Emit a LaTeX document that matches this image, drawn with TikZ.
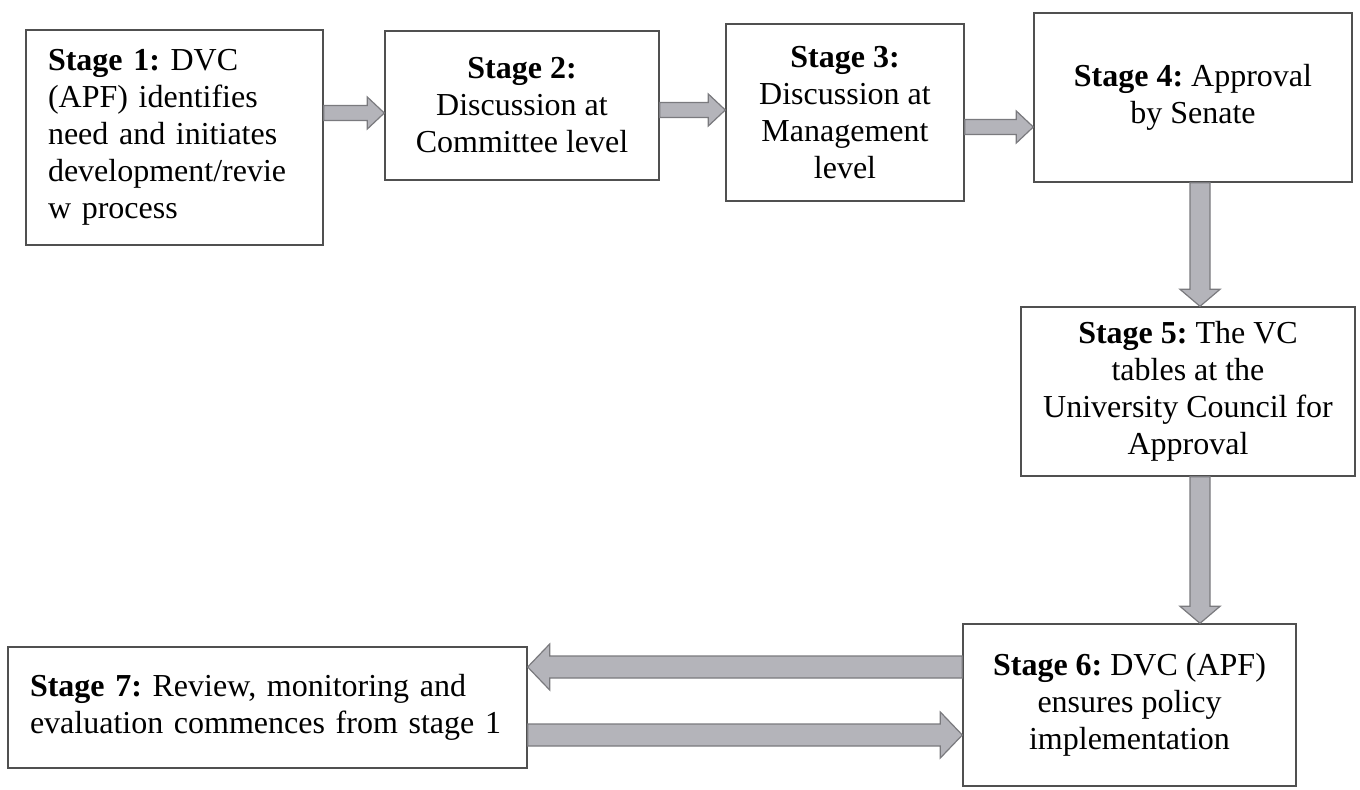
\documentclass[tikz,border=0pt]{standalone}
\usepackage{fontspec}
\setmainfont{Liberation Serif}
\usetikzlibrary{calc}
\frenchspacing
\definecolor{arrowfill}{HTML}{B4B4BA}
\definecolor{arrowline}{HTML}{7A7A7E}
\definecolor{boxline}{HTML}{505050}
\tikzset{
  stagebox/.style={draw=boxline, line width=0.7pt, inner sep=0pt, align=center,
    font=\fontsize{16}{18.5}\selectfont},
  blockarrow/.style={draw=arrowline, fill=arrowfill, line width=0.6pt, line join=miter}
}
\newcommand{\blockarrow}[5]{%
  \coordinate (ba-t) at (#1);
  \coordinate (ba-p) at (#2);
  \coordinate (ba-h) at ($(ba-p)!#5!(ba-t)$);
  \draw[blockarrow] ($(ba-t)!#3!90:(ba-p)$) -- ($(ba-h)!#3!90:(ba-p)$)
    -- ($(ba-h)!#4!90:(ba-p)$) -- (ba-p) -- ($(ba-h)!#4!-90:(ba-p)$)
    -- ($(ba-h)!#3!-90:(ba-p)$) -- ($(ba-t)!#3!-90:(ba-p)$) -- cycle;
}

\begin{document}
\begin{tikzpicture}[x=0.5pt, y=-0.5pt]
    \useasboundingbox (0,0) rectangle (1360,789);
    \node[stagebox, align=left, text width=126.5pt, inner xsep=11pt, minimum height=107.5pt] (s1) at (174.5,137.5)
        {\textbf{Stage 1:} DVC\\ (APF) identifies\\ need and initiates\\ development/revie\\ w process};
    \node[stagebox, minimum width=137pt, minimum height=74.5pt] (s2) at (522,105.5)
        {\textbf{Stage 2:}\\ Discussion at\\ Committee level};
    \node[stagebox, minimum width=119pt, minimum height=88.5pt] (s3) at (845,112.5)
        {\textbf{Stage 3:}\\ Discussion at\\ Management\\ level};
    \node[stagebox, minimum width=159pt, minimum height=84.5pt] (s4) at (1193,97.5)
        {\textbf{Stage 4:} Approval\\ by Senate};
    \node[stagebox, minimum width=167pt, minimum height=84.5pt] (s5) at (1188,391.5)
        {\textbf{Stage 5:} The VC\\ tables at the\\ University Council for\\ Approval};
    \node[stagebox, minimum width=166.5pt, minimum height=81pt] (s6) at (1129.5,705)
        {\textbf{Stage 6:} DVC (APF)\\ ensures policy\\ implementation};
    \node[stagebox, align=left, text width=237.5pt, inner xsep=11pt, minimum height=60.5pt] (s7) at (267.5,707.5)
        {\textbf{Stage 7:} Review, monitoring and\\ evaluation commences from stage 1};

    \blockarrow{s1.east |- 0,113}{s2.west |- 0,113}{3.75pt}{8pt}{8.5pt}
    \blockarrow{s2.east |- 0,110}{s3.west |- 0,110}{3.75pt}{8pt}{8.5pt}
    \blockarrow{s3.east |- 0,127}{s4.west |- 0,127}{3.75pt}{8pt}{8.5pt}
    \blockarrow{s4.south -| 1200,0}{s5.north -| 1200,0}{5pt}{10pt}{8.5pt}
    \blockarrow{s5.south -| 1200,0}{s6.north -| 1200,0}{5pt}{10pt}{8.5pt}
    \blockarrow{s6.west |- 0,667}{s7.east |- 0,667}{5.5pt}{11.5pt}{11pt}
    \blockarrow{s7.east |- 0,735}{s6.west |- 0,735}{5.5pt}{11.5pt}{11pt}
\end{tikzpicture}
\end{document}
